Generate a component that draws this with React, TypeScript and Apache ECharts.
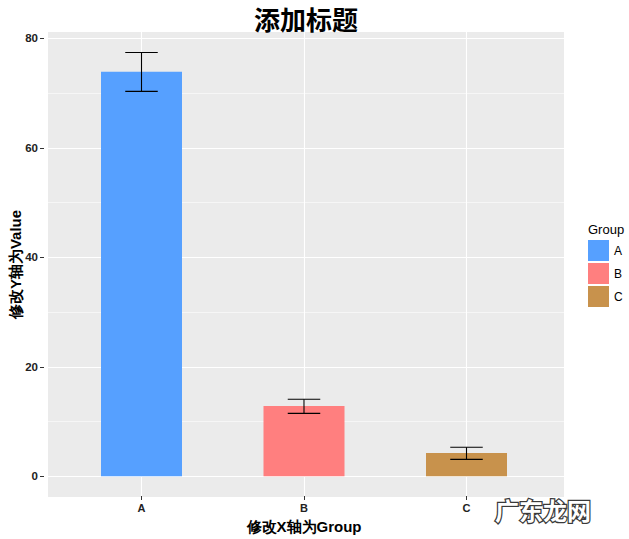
import React, { useEffect, useRef } from "react";
import * as echarts from "echarts";

const categories = ["A", "B", "C"];
const values = [73.9, 12.84, 4.25];
const errLow = [70.3, 11.5, 3.1];
const errHigh = [77.4, 14.06, 5.3];
const colors = ["#56A0FF", "#FF7F7F", "#C8924C"];
const yTicks = [0, 20, 40, 60, 80];

const FONT = "'Liberation Sans', Arial, sans-serif";

export default function App() {
  const ref = useRef<HTMLDivElement>(null);
  useEffect(() => {
    if (!ref.current) return;
    const chart = echarts.init(ref.current, undefined, { renderer: "svg" });

    const barSeries = categories.map((c, i) => ({
      name: c,
      type: "bar",
      xAxisIndex: 2,
      yAxisIndex: 2,
      data: [[i + 1, values[i]]],
      barWidth: 81,
      barGap: "-100%",
      itemStyle: { color: colors[i] },
      z: 2,
    }));

    const errData = categories.map((c, i) => [i + 1, errLow[i], errHigh[i]]);

    const option: any = {
      animation: false,
      backgroundColor: "#FFFFFF",
      grid: [
        { left: 44, top: 32, width: 520, height: 465, show: true, backgroundColor: "#EBEBEB", borderWidth: 0 },
        { left: 141.5, top: 32, width: 325, height: 465 },
        { left: 44, top: 38.3, width: 520, height: 438 },
      ],
      xAxis: [
        { gridIndex: 0, type: "value", min: 0, max: 1, show: false },
        {
          gridIndex: 1,
          type: "value",
          min: 1,
          max: 3,
          interval: 1,
          axisLine: { show: false },
          axisTick: { show: true, length: 4, lineStyle: { color: "#333333", width: 1 } },
          axisLabel: {
            margin: 6,
            fontSize: 11,
            fontWeight: "bold",
            color: "#222222",
            fontFamily: FONT,
            showMinLabel: true,
            showMaxLabel: true,
            formatter: (v: number) => categories[v - 1] ?? "",
          },
          splitLine: { show: true, lineStyle: { color: "#FFFFFF", width: 1.1 } },
          name: "修改X轴为Group",
          nameLocation: "middle",
          nameGap: 23,
          nameTextStyle: { fontSize: 15, fontWeight: "bold", color: "#000000", fontFamily: FONT },
        },
        { gridIndex: 2, type: "value", min: 0.4, max: 3.6, show: false },
      ],
      yAxis: [
        {
          gridIndex: 0,
          type: "value",
          min: 0,
          max: 1,
          show: true,
          axisLine: { show: false },
          axisTick: { show: false },
          axisLabel: { show: false },
          splitLine: { show: false },
          name: "修改Y轴为Value",
          nameLocation: "middle",
          nameGap: 25,
          nameRotate: 90,
          nameTextStyle: { fontSize: 15, fontWeight: "bold", color: "#000000", fontFamily: FONT },
        },
        { gridIndex: 1, type: "value", min: 0, max: 1, show: false },
        {
          gridIndex: 2,
          type: "value",
          min: yTicks[0],
          max: yTicks[yTicks.length - 1],
          interval: 20,
          axisLine: { show: false },
          axisTick: { show: true, length: 4, lineStyle: { color: "#333333", width: 1 } },
          axisLabel: { margin: 6, fontSize: 11.5, fontWeight: "bold", color: "#222222", fontFamily: FONT },
          splitLine: { show: true, lineStyle: { color: "#FFFFFF", width: 1.1 } },
          minorTick: { show: false, splitNumber: 2 },
          minorSplitLine: { show: true, lineStyle: { color: "#FFFFFF", width: 0.55 } },
        },
      ],
      legend: {
        data: categories,
        orient: "vertical",
        left: 583,
        top: 235,
        itemWidth: 21,
        itemHeight: 21,
        itemGap: 2,
        icon: "rect",
        textStyle: { fontSize: 12, color: "#000000", fontFamily: FONT },
      },
      graphic: [
        {
          type: "text",
          x: 306,
          y: 18,
          style: {
            text: "添加标题",
            fontSize: 26,
            fontWeight: "bold",
            fontFamily: "'Noto Sans CJK SC', serif",
            fill: "#000000",
            textAlign: "center",
            textVerticalAlign: "middle",
          },
        },
        {
          type: "text",
          x: 588,
          y: 229,
          style: {
            text: "Group",
            fontSize: 13,
            fontFamily: FONT,
            fill: "#000000",
            textAlign: "left",
            textVerticalAlign: "middle",
          },
        },
        {
          type: "text",
          x: 543,
          y: 509,
          z: 100,
          style: {
            text: "广东龙网",
            fontSize: 24,
            fontWeight: "bold",
            fontFamily: "'Noto Sans CJK SC', sans-serif",
            fill: "#FFFFFF",
            stroke: "#3A3A3A",
            lineWidth: 2.5,
            textAlign: "center",
            textVerticalAlign: "middle",
          },
        },
      ],
      series: [
        ...barSeries,
        {
          type: "custom",
          xAxisIndex: 2,
          yAxisIndex: 2,
          z: 3,
          data: errData,
          renderItem: (params: any, api: any) => {
            const x = api.value(0);
            const lo = api.coord([x, api.value(1)]);
            const hi = api.coord([x, api.value(2)]);
            const half = api.size([0.2, 0])[0] / 2;
            const style = { stroke: "#000000", lineWidth: 1.1 };
            return {
              type: "group",
              children: [
                { type: "line", shape: { x1: lo[0], y1: lo[1], x2: hi[0], y2: hi[1] }, style },
                { type: "line", shape: { x1: hi[0] - half, y1: hi[1], x2: hi[0] + half, y2: hi[1] }, style },
                { type: "line", shape: { x1: lo[0] - half, y1: lo[1], x2: lo[0] + half, y2: lo[1] }, style },
              ],
            };
          },
        },
      ],
    };

    chart.setOption(option);
    return () => chart.dispose();
  }, []);

  return (
    <div
      ref={ref}
      style={{ position: "absolute", left: 0, top: 0, width: 629, height: 539 }}
    />
  );
}
